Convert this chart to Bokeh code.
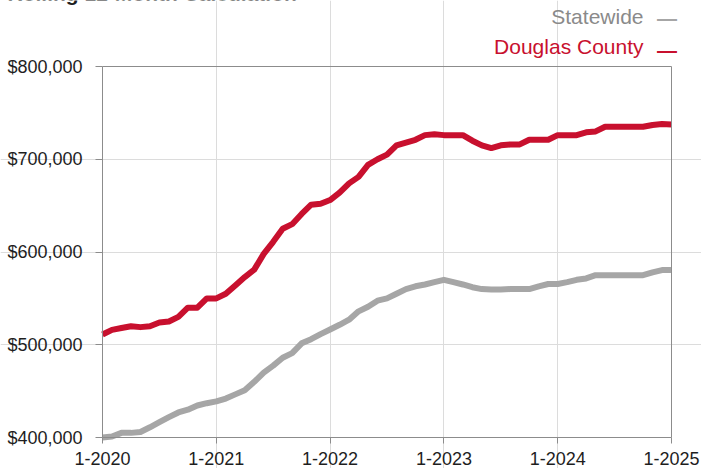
from bokeh.plotting import figure
from bokeh.models import Range1d, NumeralTickFormatter, FixedTicker, Label, LinearAxis
from bokeh.embed import file_html
from bokeh.resources import INLINE

# ---- data ----
title_text = "Rolling 12-Month Calculation"
series_names = ["Statewide", "Douglas County"]
tick_labels = ["1-2020", "1-2021", "1-2022", "1-2023", "1-2024", "1-2025"]
month_index = list(range(61))  # Jan 2020 .. Jan 2025, monthly

douglas = [
    511000, 516000, 518000, 520000, 519000, 520000, 524000, 525000, 530000, 540000,
    540000, 550000, 550000, 555000, 564000, 573000, 581000, 598000, 611000, 625000,
    630000, 641000, 651000, 652000, 656000, 664000, 674000, 681000, 694000, 700000,
    705000, 715000, 718000, 721000, 726000, 727000, 726000, 726000, 726000, 720000,
    715000, 712000, 715000, 716000, 716000, 721000, 721000, 721000, 726000, 726000,
    726000, 729000, 730000, 735000, 735000, 735000, 735000, 735000, 737000, 738000,
    737500,
]
statewide = [
    400000, 401000, 405000, 405000, 406000, 411000, 416500, 422000, 427000, 430000,
    434500, 437000, 439000, 442000, 446500, 451000, 460000, 470000, 477500, 486000,
    491000, 501500, 506000, 511500, 516500, 521500, 527000, 536000, 541000, 547500,
    550000, 555000, 560000, 563000, 565000, 567500, 570000, 567500, 565000, 562000,
    560000, 559500, 559500, 560000, 560000, 560000, 563000, 565500, 565500, 567500,
    570000, 571500, 575000, 575000, 575000, 575000, 575000, 575000, 578000, 580500,
    580500,
]

RED = "#c8102e"
GRAY_LINE = "#a6a6a6"
GRAY_TEXT = "#8a8a8a"
AXIS = "#8c8c8c"
FONT = "Liberation Sans"

W, H = 701, 468
# plot-area geometry (canvas pixels)
F_LEFT, F_RIGHT, F_TOP, F_BOTTOM = 102, 671, 66, 437
X0, X1, Y0, Y1 = 0, 60, 400000, 800000

def px_x(px):
    return X0 + (px - F_LEFT) * (X1 - X0) / (F_RIGHT - F_LEFT)

def px_y(py):
    return Y1 - (py - F_TOP) * (Y1 - Y0) / (F_BOTTOM - F_TOP)

# the frame covers the whole canvas; axes are pinned with fixed_location
p = figure(
    width=W, height=H,
    output_backend="svg", toolbar_location=None,
    x_range=Range1d(px_x(0), px_x(W)), y_range=Range1d(px_y(H), px_y(0)),
    min_border=0, min_border_left=0, min_border_right=0,
    min_border_top=0, min_border_bottom=0,
    x_axis_location=None, y_axis_location=None,
)
p.background_fill_color = "white"
p.border_fill_color = "white"
p.outline_line_color = None

# grid
p.xgrid.ticker = FixedTicker(ticks=[12, 24, 36, 48])
p.xgrid.bounds = (Y0, Y1)
p.ygrid.ticker = FixedTicker(ticks=[500000, 600000, 700000])
p.ygrid.bounds = (X0, X1)
p.grid.grid_line_color = "#dcdcdc"
p.grid.grid_line_width = 1

p.line(month_index, statewide, line_color=GRAY_LINE, line_width=6, line_join="round")
p.line(month_index, douglas, line_color=RED, line_width=6, line_join="round")

# axes
xaxis = LinearAxis(fixed_location=Y0, bounds=(X0, X1),
                   ticker=FixedTicker(ticks=[0, 12, 24, 36, 48, 60]),
                   major_label_overrides={i * 12: t for i, t in enumerate(tick_labels)},
                   major_tick_out=6, major_label_standoff=8)
yaxis = LinearAxis(fixed_location=X0, bounds=(Y0, Y1),
                   ticker=FixedTicker(ticks=[400000, 500000, 600000, 700000, 800000]),
                   formatter=NumeralTickFormatter(format="$0,0"),
                   major_tick_out=7, major_label_standoff=13)
for ax in (xaxis, yaxis):
    ax.axis_line_color = AXIS
    ax.axis_line_width = 1
    ax.major_tick_line_color = AXIS
    ax.minor_tick_line_color = None
    ax.major_tick_in = 0
    ax.major_label_text_font = FONT
    ax.major_label_text_font_size = "18px"
    ax.major_label_text_color = "#1e1e1e"
p.add_layout(xaxis, "below")
p.add_layout(yaxis, "left")

# top and right borders of the plot area
for loc, side, bnds in ((Y1, "above", (X0, X1)), (X1, "right", (Y0, Y1))):
    p.add_layout(LinearAxis(fixed_location=loc, bounds=bnds, ticker=FixedTicker(ticks=[]),
                            axis_line_color=AXIS, major_tick_out=0, major_tick_in=0,
                            minor_tick_line_color=None, major_label_text_font_size="0px"), side)

# cut-off title at top
p.add_layout(Label(x=px_x(7), y=px_y(-6.8), text=title_text, text_font=FONT,
                   text_font_size="21px", text_font_style="bold", text_color="#1e1e1e",
                   text_align="left", text_baseline="middle"))

# custom legend (label then dash)
legend_rows = [(series_names[0], GRAY_TEXT, GRAY_LINE, 16, 17.5),
               (series_names[1], RED, RED, 46, 49.5)]
for name, tcol, lcol, ty, dy in legend_rows:
    p.add_layout(Label(x=px_x(643), y=px_y(ty), text=name, text_font=FONT,
                       text_font_size="21px", text_color=tcol,
                       text_align="right", text_baseline="middle"))
    p.add_layout(Label(x=px_x(666.5), y=px_y(dy), text="\u2014", text_font=FONT,
                       text_font_size="20px", text_font_style="bold", text_color=lcol,
                       text_align="center", text_baseline="middle"))

open("out.html", "w").write(file_html(p, INLINE))
